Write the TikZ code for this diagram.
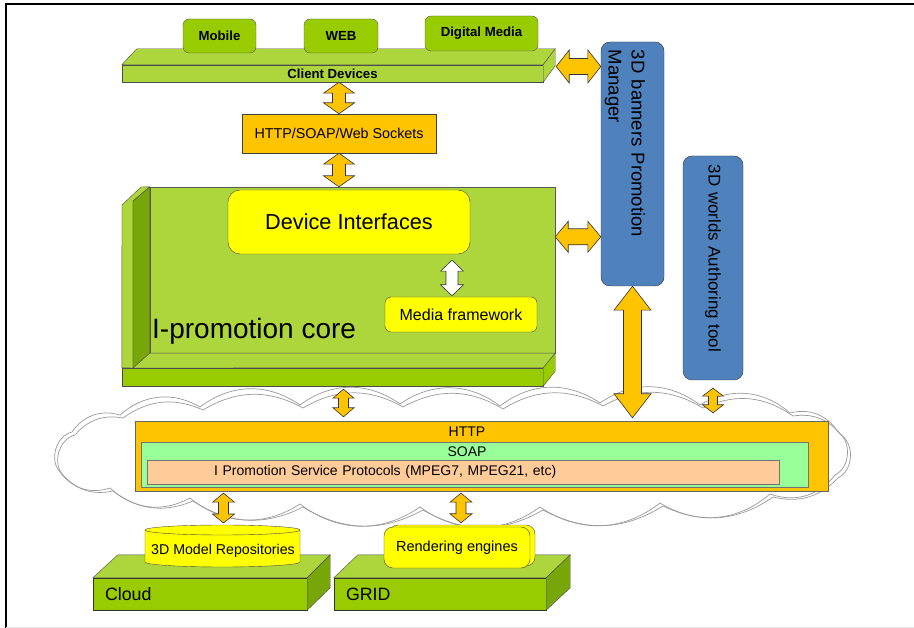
\documentclass[tikz,border=0pt]{standalone}
\usepackage{fontspec}
\setmainfont{Liberation Sans}
\usetikzlibrary{shapes.geometric, calc, positioning}
\definecolor{limeg}{RGB}{153,204,0}
\definecolor{lightg}{RGB}{172,214,60}
\definecolor{darkg}{RGB}{120,166,8}
\definecolor{gold}{RGB}{255,196,0}
\definecolor{yell}{RGB}{255,255,0}
\definecolor{barblue}{RGB}{79,129,189}
\definecolor{soapg}{RGB}{153,255,153}
\definecolor{peach}{RGB}{255,204,153}

% vertical block arrow: [fill]{top}{bottom}{shaft half}{head half}{head length}
\newcommand{\vblock}[6][gold]{%
  \coordinate (va) at (#2);
  \coordinate (vt) at (#3);
  \coordinate (vb) at (va |- vt);
  \draw[blockarrow=#1] (va) -- ++(#5,#6) -- ++(#4-#5,0) -- ($(vb)+(#4,-#6)$) -- ++(#5-#4,0) -- (vb)
    -- ++(-#5,-#6) -- ++(#5-#4,0) -- ($(va)+(-#4,#6)$) -- ++(#4-#5,0) -- cycle;}
% horizontal block arrow: [fill]{left}{right}{shaft half}{head half}{head length}
\newcommand{\hblock}[6][gold]{%
  \coordinate (va) at (#2);
  \coordinate (vt) at (#3);
  \coordinate (vb) at (vt |- va);
  \draw[blockarrow=#1] (va) -- ++(#6,-#5) -- ++(0,#5-#4) -- ($(vb)+(-#6,-#4)$) -- ++(0,#4-#5) -- (vb)
    -- ++(-#6,#5) -- ++(0,#4-#5) -- ($(va)+(#6,#4)$) -- ++(0,#5-#4) -- cycle;}

\begin{document}
\begin{tikzpicture}[
  x=1pt, y=-1pt,
  lbl/.style={font=\fontsize{14.3}{17}\selectfont},
  boldlbl/.style={font=\fontsize{13.2}{16}\selectfont\bfseries},
  tab/.style={rectangle, draw=black!65, rounded corners=6pt, fill=limeg, inner sep=0pt, boldlbl},
  slabfront/.style={rectangle, draw=black!70, fill=#1, inner sep=0pt},
  face/.style={draw=black!70, fill=#1},
  box/.style={rectangle, draw=black!75, fill=#1, inner sep=0pt},
  bar/.style={rectangle, draw=black!80, rounded corners=9pt, fill=barblue, rotate=-90, align=left, inner xsep=8pt},
  cloudline/.style={draw=black!40, line width=0.7pt},
  blockarrow/.style={draw=black!80, line width=0.6pt, fill=#1},
  blockarrow/.default=gold,
]

\useasboundingbox (0,0) rectangle (914,628);
\draw[line width=2pt] (5,4) -- (914,4);
\draw[line width=1.6pt] (6,4) -- (6,628);
\draw[black!10] (6,627) -- (914,627);

% client devices
\node[slabfront=lightg, minimum width=421pt, minimum height=17pt, boldlbl] (clientfront) at (332.5,73.5) {Client Devices};
\draw[face=lightg] (clientfront.north west) -- ++(15,-16) -- ($(clientfront.north east)+(12,-16)$) -- (clientfront.north east) -- cycle;
\draw[face=lightg] (clientfront.north east) -- ++(12,-16) -- ++(0,17) -- (clientfront.south east) -- cycle;
\coordinate (clientside) at ($(clientfront.east)+(13,-7)$);
\node[tab, minimum width=73pt, minimum height=34pt] (mobile) at (219.5,36) {Mobile};
\node[tab, minimum width=74pt, minimum height=34pt] (web) at (341,36) {WEB};
\node[tab, minimum width=113pt, minimum height=35pt] (digital) at (481.5,33.5) {Digital Media};

\node[box=gold, minimum width=194pt, minimum height=39pt, lbl] (httpws) at (339,133.5) {HTTP/SOAP/Web Sockets};

% i-promotion core
\node[box=lightg, draw=black!65, minimum width=405pt, minimum height=166pt] (corepanel) at (352.5,270) {};
\node[slabfront=limeg, minimum width=421pt, minimum height=18pt] (corebase) at (332.5,377) {};
\draw[face=lightg] (corebase.north west) -- (122,205) -- (141,187) -- (corepanel.north west) -- (133,201) -- (133,368) -- cycle;
\draw[face=darkg] (133,201) -- (corepanel.north west) -- (corepanel.south west) -- (133,368) -- cycle;
\draw[face=lightg] (133,368) -- (corepanel.south west) -- (corepanel.south east) -- (corebase.north east) -- cycle;
\draw[face=limeg] (corebase.north east) -- (corepanel.south east) -- ++(0,18) -- (corebase.south east) -- cycle;
\node[box=yell, rounded corners=12pt, minimum width=242pt, minimum height=64pt, font=\fontsize{21.7}{26}\selectfont] (devif) at (349,222) {Device Interfaces};
\node[box=yell, rounded corners=6pt, minimum width=152pt, minimum height=35pt, font=\fontsize{16}{19}\selectfont] (media) at (461,314.5) {Media framework};
\node[anchor=west, inner sep=0pt, font=\fontsize{28}{32}\selectfont] (coretext) at (152,331) {I-promotion core};
\coordinate (coreport) at ($(corepanel.north east)+(0,50)$);

% managers
\node[bar, minimum width=244pt, minimum height=63pt, text width=228pt, text height=28.5pt, font=\fontsize{18.5}{23}\selectfont] (banners) at (632.5,164) {3D banners Promotion\\Manager};
\node[bar, minimum width=224pt, minimum height=60pt, text width=206pt, inner xsep=9pt, font=\fontsize{16.9}{20}\selectfont] (authoring) at (713,268) {3D worlds Authoring tool};

% cloud
\foreach \dx/\dy/\bnd in {0/0/36, 3/3/30}{
  \draw[cloudline, shift={(\dx,\dy)}] (60,472) to[bend left=60] (72,432) to[bend left=\bnd] (120,415)
    to[bend left=\bnd] (200,407) to[bend left=\bnd] (300,405) to[bend left=\bnd] (400,404)
    to[bend left=\bnd] (500,406) to[bend left=\bnd] (600,403) to[bend left=\bnd] (700,405)
    to[bend left=\bnd] (790,413) to[bend left=\bnd] (838,432) to[bend left=60] (835,475)
    to[bend left=\bnd] (770,494) to[bend left=\bnd] (660,503) to[bend left=\bnd] (540,507)
    to[bend left=\bnd] (420,507) to[bend left=\bnd] (300,504) to[bend left=\bnd] (190,498)
    to[bend left=\bnd] (110,488) to[bend left=\bnd] (60,472);
}

% protocol stack
\node[box=gold, draw=black!60, minimum width=693pt, minimum height=70pt,
  label={[lbl, font=\fontsize{14}{17}\selectfont, anchor=north, inner sep=0pt, yshift=-6pt, xshift=-14.5pt]north:HTTP}] (httpband) at (481.5,456) {};
\node[box=soapg, draw=black!55, minimum width=667pt, minimum height=45pt,
  label={[lbl, font=\fontsize{14}{17}\selectfont, anchor=north, inner sep=0pt, yshift=-5pt, xshift=-7.5pt]north:SOAP}] (soapband) at (474.5,464.5) {};
\node[box=peach, draw=black!55, minimum width=632pt, minimum height=24pt, text width=498pt, inner xsep=67pt, align=left, font=\fontsize{14}{17}\selectfont] (protoband) at (463,472) {I Promotion Service Protocols (MPEG7, MPEG21, etc)};

% resources
\node[slabfront=limeg, draw=black!80, minimum width=214pt, minimum height=32pt, text width=190pt, inner xsep=12pt, align=left, font=\fontsize{17.8}{21}\selectfont] (cloudbase) at (200,594) {Cloud};
\draw[face=lightg] (cloudbase.north west) -- ++(25,-23) -- ($(cloudbase.north east)+(23,-23)$) -- (cloudbase.north east) -- cycle;
\draw[face=darkg] (cloudbase.north east) -- ++(23,-23) -- ++(0,33) -- (cloudbase.south east) -- cycle;
\node[slabfront=limeg, draw=black!80, minimum width=212pt, minimum height=32pt, text width=188pt, inner xsep=12pt, align=left, font=\fontsize{17.8}{21}\selectfont] (gridbase) at (440,594) {GRID};
\draw[face=lightg] (gridbase.north west) -- ++(24,-23) -- ($(gridbase.north east)+(24,-23)$) -- (gridbase.north east) -- cycle;
\draw[face=darkg] (gridbase.north east) -- ++(24,-23) -- ++(0,33) -- (gridbase.south east) -- cycle;

\coordinate (cyltop) at (222.5,530);
\draw[face=yell] ($(cyltop)+(-77.5,0)$) -- ++(0,32) arc[start angle=180, end angle=360, x radius=77.5pt, y radius=5pt] -- ($(cyltop)+(77.5,0)$) -- cycle;
\draw[face=yell] (cyltop) ellipse[x radius=77.5pt, y radius=5pt];
\node[inner sep=0pt, font=\fontsize{14.2}{17}\selectfont] (repos) at (223,551) {3D Model Repositories};
\draw[face=yell, rounded corners=9pt] (389,525) rectangle (535,566);
\node[box=yell, rounded corners=9pt, minimum width=146pt, minimum height=41pt, font=\fontsize{14.5}{17}\selectfont] (render) at (457,547.5) {Rendering engines};

% connectors
\vblock{httpws.north |- clientfront.south}{httpws.north}{6.5}{15.5}{11}
\vblock{httpws.south}{corepanel.north}{6.5}{15.5}{11}
\hblock{clientside}{banners.south}{8}{16.5}{13}
\hblock{coreport}{banners.south}{8}{15.5}{13}
\vblock[white]{$(media.north |- devif.south)+(-9,6)$}{$(media.north)+(0,-1)$}{6}{11.5}{11}
\vblock{banners.east}{$(httpband.north)+(0,-3)$}{9}{18.5}{24}
\vblock{$(authoring.east)+(0,8)$}{$(httpband.north)+(0,-8)$}{4.5}{10.5}{8}
\vblock{$(corebase.south)+(11,3)$}{$(httpband.north)+(0,-4)$}{5}{10.5}{9}
\vblock{$(cyltop |- httpband.south)+(1,2)$}{$(cyltop)+(0,-7)$}{5}{11}{9}
\vblock{$(render.north |- httpband.south)+(4,2)$}{$(render.north)+(0,-4)$}{5}{11}{9}

\end{tikzpicture}
\end{document}
